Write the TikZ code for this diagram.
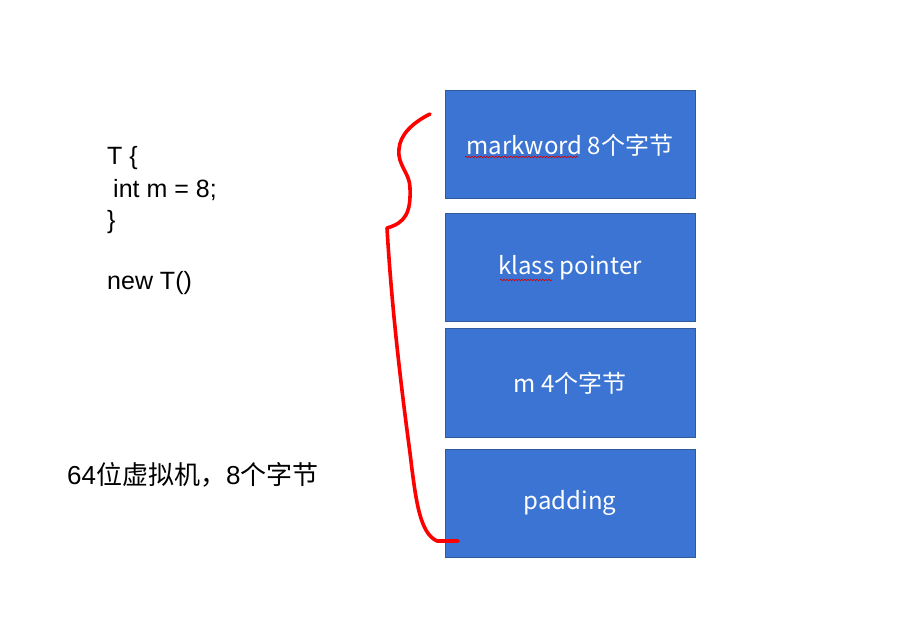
\documentclass[tikz,border=0pt]{standalone}
\usepackage{fontspec}
\setmainfont{Liberation Sans}
\newfontfamily\cjk{Noto Sans CJK SC}
\usetikzlibrary{decorations.pathmorphing}
\definecolor{slotblue}{HTML}{3B74D3}
\definecolor{slotedge}{HTML}{2F5A9C}
\tikzset{
  slot/.style={draw=slotedge, line width=1pt, fill=slotblue, text=white,
    minimum width=250pt, minimum height=108pt, inner sep=0pt,
    font=\cjk\fontsize{24}{28}\selectfont},
  codeline/.style={anchor=west, inner sep=0pt, font=\fontsize{25}{32}\selectfont},
  spell/.style={red!85!black, line width=0.6pt,
    decorate, decoration={snake, amplitude=0.8pt, segment length=3pt}}
}

\begin{document}
\begin{tikzpicture}[x=1pt, y=1pt]
        \useasboundingbox (0,0) rectangle (923,643);
        % object layout, one slot per part
        \node[slot] (mark)   at (570, 498) {markword 8个字节};
        \node[slot] (klass)  at (570, 375) {klass pointer};
        \node[slot] (mfield) at (570, 260) {m 4个字节};
        \node[slot] (pad)    at (570, 140) {padding};
        % spell-check marks
        \draw[spell] (465, 486) -- (578, 486);
        \draw[spell] (500, 363) -- (552, 363);
        % source on the left
        \node[codeline] (tline)   at (107, 485) {T \{};
        \node[codeline] (intline) at (113, 453) {int m = 8;};
        \node[codeline] (endline) at (107, 421) {\}};
        \node[codeline] (newline) at (107, 360) {new T()};
        \node[codeline, font=\fontsize{26}{30}\selectfont] (vmnote) at (67, 168)
          {64{\cjk 位虚拟机，}8{\cjk 个字节}};
        % red brace, drawn by hand
        \draw[red, line width=3.6pt, line cap=round, line join=round]
          (430, 529) .. controls (412, 520) and (400, 508) .. (399, 494)
          .. controls (397, 478) and (410, 470) .. (410, 455)
          .. controls (411, 430) and (405, 420) .. (387, 415)
          .. controls (392, 330) and (402, 250) .. (410, 190)
          .. controls (416, 140) and (420, 110) .. (437, 102)
          -- (458, 102);
\end{tikzpicture}
\end{document}
